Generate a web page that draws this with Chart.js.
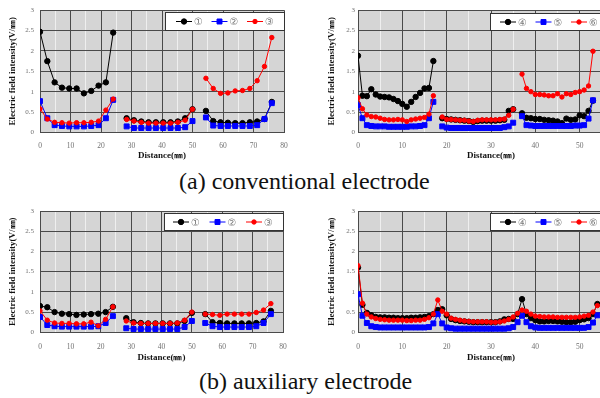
<!DOCTYPE html>
<html><head><meta charset="utf-8">
<script src="https://cdn.jsdelivr.net/npm/chart.js@4.4.1/dist/chart.umd.min.js"></script>
<style>
html,body{margin:0;padding:0;background:#fff;}
body{width:600px;height:398px;overflow:hidden;position:relative;}
.panel{position:absolute;}
.cap{position:absolute;font-family:'Liberation Serif','Times New Roman',Tinos,'DejaVu Serif','Noto Serif',serif;font-size:24px;line-height:24px;color:#111;white-space:nowrap;}
</style></head><body>
<div class="panel" style="left:0px;top:0px;width:300px;height:165px"><canvas id="aL"></canvas></div>
<div class="panel" style="left:300px;top:0px;width:340px;height:165px"><canvas id="aR"></canvas></div>
<div class="panel" style="left:0px;top:200px;width:300px;height:165px"><canvas id="bL"></canvas></div>
<div class="panel" style="left:300px;top:200px;width:340px;height:165px"><canvas id="bR"></canvas></div>
<div class="cap" style="left:179px;top:169px">(a) conventional electrode</div>
<div class="cap" style="left:199px;top:369px">(b) auxiliary electrode</div>
<script>
// ---------- data ----------
const namesLeft = ['①','②','③'];
const namesRight = ['④','⑤','⑥'];
const yTickValues = [0, 0.5, 1, 1.5, 2, 2.5, 3];
const xTicksLeft = [0, 10, 20, 30, 40, 50, 60, 70, 80];
const xTicksRight = [0, 10, 20, 30, 40, 50, 60];

// (a) conventional electrode, left panel
const aLeftDistance = [
  [0, 2.4, 4.8, 7.2, 9.6, 12, 14.4, 16.8, 19.2, 21.6, 24],
  [28.4, 30.8, 33.2, 35.6, 38, 40.4, 42.8, 45.2, 47.6, 50],
  [54.4, 56.8, 59.2, 61.6, 64, 66.4, 68.8, 71.2, 73.6, 76]
];
const aLeft1 = [
  [2.47, 1.75, 1.23, 1.10, 1.08, 1.08, 0.96, 1.02, 1.15, 1.23, 2.45],
  [0.35, 0.30, 0.27, 0.25, 0.25, 0.25, 0.25, 0.27, 0.35, 0.57],
  [0.53, 0.28, 0.25, 0.24, 0.23, 0.23, 0.25, 0.27, 0.33, 0.75]
];
const aLeft2 = [
  [0.77, 0.35, 0.18, 0.16, 0.15, 0.15, 0.15, 0.16, 0.18, 0.35, 0.80],
  [0.15, 0.11, 0.11, 0.11, 0.11, 0.11, 0.11, 0.11, 0.13, 0.28],
  [0.37, 0.17, 0.16, 0.16, 0.16, 0.16, 0.16, 0.18, 0.33, 0.72]
];
const aLeft3 = [
  [0.58, 0.33, 0.25, 0.24, 0.23, 0.24, 0.24, 0.25, 0.28, 0.55, 0.82],
  [0.32, 0.28, 0.25, 0.23, 0.23, 0.23, 0.23, 0.25, 0.30, 0.57],
  [1.33, 1.08, 0.96, 0.97, 1.02, 1.03, 1.08, 1.27, 1.62, 2.33]
];

// (a) conventional electrode, right panel
const aRightDistance = [
  [0, 1, 2, 3, 4, 5, 6, 7, 8, 9, 10, 11, 12, 13, 14, 15, 16, 17],
  [19, 20, 21, 22, 23, 24, 25, 26, 27, 28, 29, 30, 31, 32, 33, 34, 35],
  [37, 38, 39, 40, 41, 42, 43, 44, 45, 46, 47, 48, 49, 50, 51, 52, 53]
];
const aRight1 = [
  [1.88, 0.90, 0.89, 1.06, 0.93, 0.88, 0.87, 0.86, 0.82, 0.77, 0.70, 0.63, 0.75, 0.87, 0.97, 1.08, 1.09, 1.75],
  [0.35, 0.33, 0.32, 0.31, 0.30, 0.29, 0.28, 0.26, 0.28, 0.29, 0.29, 0.29, 0.29, 0.30, 0.31, 0.53, 0.57],
  [0.47, 0.36, 0.35, 0.33, 0.33, 0.31, 0.30, 0.29, 0.27, 0.23, 0.34, 0.31, 0.32, 0.42, 0.40, 0.53, 0.78]
];
const aRight2 = [
  [0.67, 0.35, 0.18, 0.16, 0.15, 0.15, 0.15, 0.14, 0.14, 0.14, 0.14, 0.14, 0.15, 0.15, 0.16, 0.18, 0.35, 0.75],
  [0.15, 0.12, 0.11, 0.11, 0.11, 0.11, 0.11, 0.11, 0.11, 0.11, 0.11, 0.11, 0.11, 0.11, 0.13, 0.15, 0.24],
  [0.40, 0.18, 0.17, 0.16, 0.16, 0.16, 0.16, 0.16, 0.16, 0.16, 0.16, 0.16, 0.17, 0.17, 0.18, 0.34, 0.79]
];
const aRight3 = [
  [0.85, 0.58, 0.43, 0.39, 0.38, 0.35, 0.32, 0.31, 0.31, 0.32, 0.31, 0.27, 0.31, 0.33, 0.35, 0.37, 0.45, 0.90],
  [0.38, 0.32, 0.32, 0.31, 0.30, 0.30, 0.28, 0.27, 0.30, 0.31, 0.31, 0.31, 0.31, 0.32, 0.33, 0.42, 0.57],
  [1.43, 1.08, 1.00, 0.93, 0.93, 0.92, 0.90, 0.90, 0.95, 0.87, 0.95, 0.93, 0.98, 1.00, 1.04, 1.14, 1.99]
];

// (b) auxiliary electrode, left panel
const bLeftDistance = aLeftDistance;
const bLeft1 = [
  [0.65, 0.62, 0.50, 0.46, 0.45, 0.43, 0.44, 0.45, 0.46, 0.50, 0.63],
  [0.35, 0.25, 0.23, 0.22, 0.22, 0.22, 0.22, 0.22, 0.28, 0.48],
  [0.45, 0.25, 0.23, 0.22, 0.22, 0.22, 0.22, 0.23, 0.27, 0.53]
];
const bLeft2 = [
  [0.38, 0.18, 0.15, 0.14, 0.14, 0.14, 0.14, 0.14, 0.15, 0.23, 0.40],
  [0.10, 0.08, 0.08, 0.08, 0.08, 0.08, 0.08, 0.08, 0.13, 0.28],
  [0.23, 0.15, 0.13, 0.13, 0.13, 0.13, 0.13, 0.15, 0.23, 0.45]
];
const bLeft3 = [
  [0.53, 0.30, 0.23, 0.22, 0.22, 0.21, 0.21, 0.25, 0.16, 0.32, 0.63],
  [0.28, 0.23, 0.22, 0.22, 0.22, 0.22, 0.22, 0.23, 0.30, 0.50],
  [0.45, 0.44, 0.42, 0.45, 0.45, 0.45, 0.45, 0.49, 0.55, 0.71]
];

// (b) auxiliary electrode, right panel
const bRightDistance = [
  [0, 1, 2, 3, 4, 5, 6, 7, 8, 9, 10, 11, 12, 13, 14, 15, 16, 17, 18, 19, 20, 21, 22, 23, 24, 25, 26, 27,
   28, 29, 30, 31, 32, 33, 34, 35, 36, 37, 38, 39, 40, 41, 42, 43, 44, 45, 46, 47, 48, 49, 50, 51, 52, 53, 54]
];
const bRight1 = [
  [1.60, 0.68, 0.48, 0.42, 0.38, 0.37, 0.37, 0.36, 0.36, 0.35, 0.35, 0.35, 0.36, 0.36, 0.37, 0.38, 0.40, 0.45, 0.55,
   0.57, 0.42, 0.33, 0.30, 0.28, 0.27, 0.26, 0.25, 0.25, 0.25, 0.25, 0.25, 0.25, 0.27, 0.32, 0.33, 0.33, 0.45,
   0.82, 0.45, 0.35, 0.30, 0.27, 0.27, 0.28, 0.28, 0.27, 0.26, 0.25, 0.25, 0.26, 0.30, 0.32, 0.35, 0.45, 0.70]
];
const bRight2 = [
  [0.94, 0.41, 0.23, 0.15, 0.13, 0.12, 0.12, 0.12, 0.12, 0.12, 0.12, 0.12, 0.12, 0.12, 0.12, 0.12, 0.13, 0.22, 0.45,
   0.22, 0.12, 0.10, 0.09, 0.09, 0.09, 0.09, 0.09, 0.09, 0.09, 0.09, 0.09, 0.09, 0.09, 0.09, 0.10, 0.13, 0.25,
   0.41, 0.25, 0.15, 0.12, 0.11, 0.11, 0.11, 0.11, 0.11, 0.11, 0.11, 0.11, 0.11, 0.11, 0.11, 0.13, 0.24, 0.42]
];
const bRight3 = [
  [1.65, 0.72, 0.45, 0.38, 0.34, 0.32, 0.31, 0.30, 0.30, 0.30, 0.30, 0.29, 0.29, 0.30, 0.30, 0.32, 0.36, 0.45, 0.80,
   0.52, 0.45, 0.35, 0.32, 0.30, 0.28, 0.27, 0.26, 0.26, 0.26, 0.26, 0.25, 0.25, 0.26, 0.28, 0.32, 0.38, 0.47,
   0.55, 0.52, 0.45, 0.40, 0.39, 0.38, 0.38, 0.38, 0.37, 0.37, 0.37, 0.37, 0.37, 0.38, 0.40, 0.42, 0.50, 0.66]
];

// ---------- styling ----------
const serifFamily = "'Liberation Serif', 'Times New Roman', Tinos, 'DejaVu Serif', 'Noto Serif', serif";
const seriesStyle = [
  {color: '#000000', pointStyle: 'circle', radius: 2.7},
  {color: '#0000ff', pointStyle: 'rect', radius: 3.5},
  {color: '#ff0000', pointStyle: 'circle', radius: 2.2}
];
const gridDark = '#4a4a4a';
const gridLight = '#efefef';
const plotFill = '#d5d5d5';

function toPoints(dist, vals) {
  const out = [];
  dist.forEach((seg, s) => {
    if (s > 0) out.push({x: seg[0], y: null});
    seg.forEach((x, i) => out.push({x: x, y: vals[s][i]}));
  });
  return out;
}

const plotBg = {
  id: 'plotBg',
  beforeDraw(chart) {
    const a = chart.chartArea, ctx = chart.ctx;
    ctx.save();
    ctx.fillStyle = plotFill;
    ctx.fillRect(a.left, a.top, a.right - a.left, a.bottom - a.top);
    ctx.restore();
  }
};

const boxLegend = {
  id: 'boxLegend',
  afterDraw(chart, args, o) {
    const ctx = chart.ctx;
    ctx.save();
    ctx.fillStyle = '#ffffff';
    ctx.fillRect(o.x, o.y, o.w, o.h);
    ctx.strokeStyle = '#333';
    ctx.lineWidth = 1;
    ctx.strokeRect(o.x + 0.5, o.y + 0.5, o.w, o.h);
    const cy = o.y + o.h / 2 + 0.5;
    chart.data.datasets.forEach((ds, i) => {
      const st = seriesStyle[i];
      const cx = o.x + o.first + i * o.gap;
      ctx.strokeStyle = st.color;
      ctx.fillStyle = st.color;
      ctx.lineWidth = 1;
      ctx.beginPath();
      ctx.moveTo(cx - 8, cy);
      ctx.lineTo(cx + 8, cy);
      ctx.stroke();
      Chart.helpers.drawPoint(ctx, {pointStyle: st.pointStyle, radius: st.radius, rotation: 0, borderWidth: 1}, cx, cy);
      ctx.fillStyle = '#7a7a7a';
      ctx.font = "10px 'DejaVu Sans','Noto Sans CJK KR',sans-serif";
      ctx.textBaseline = 'middle';
      ctx.textAlign = 'left';
      ctx.fillText(ds.label, cx + 10, cy + 1);
    });
    ctx.restore();
  }
};

function makeChart(id, dist, s1, s2, s3, names, xTicks, cfg) {
  const all = [s1, s2, s3];
  const xMax = xTicks[xTicks.length - 1];
  return new Chart(document.getElementById(id), {
    type: 'line',
    data: {
      datasets: all.map((v, i) => ({
        label: names[i],
        data: toPoints(dist, v),
        borderColor: seriesStyle[i].color,
        backgroundColor: seriesStyle[i].color,
        pointStyle: seriesStyle[i].pointStyle,
        pointRadius: seriesStyle[i].radius,
        pointHoverRadius: seriesStyle[i].radius,
        pointBorderWidth: 1,
        borderWidth: 1,
        tension: 0,
        spanGaps: false,
        order: 2 - i
      }))
    },
    options: {
      responsive: true,
      maintainAspectRatio: false,
      animation: false,
      events: [],
      layout: {padding: {top: cfg.top, right: cfg.right, left: 0, bottom: 0}},
      plugins: {legend: {display: false}, tooltip: {enabled: false}, boxLegend: cfg.legend},
      scales: {
        x: {
          type: 'linear', min: 0, max: xMax,
          afterFit: s => { s.height = cfg.xHeight; },
          ticks: {
            stepSize: 5, autoSkip: false, maxRotation: 0, padding: cfg.xTickPad,
            color: '#707070', font: {family: serifFamily, size: 7.5},
            callback: v => xTicks.includes(v) ? String(v) : ''
          },
          grid: {color: c => (c.tick && xTicks.includes(c.tick.value)) ? gridDark : gridLight, drawTicks: false, lineWidth: 1},
          border: {display: true, color: gridDark},
          title: {display: true, text: 'Distance(㎜)', color: '#111',
                  font: {family: serifFamily, size: 9, weight: 'bold'},
                  padding: {top: 0, bottom: cfg.xTitlePad}}
        },
        y: {
          min: 0, max: 3,
          afterFit: s => { s.width = cfg.yWidth; },
          afterBuildTicks: s => { s.ticks = yTickValues.map(v => ({value: v})); },
          ticks: {padding: cfg.yTickPad, color: '#707070', font: {family: serifFamily, size: 7},
                  callback: v => String(v)},
          grid: {color: gridDark, drawTicks: false, lineWidth: 1},
          border: {display: true, color: gridDark},
          title: {display: true, text: 'Electric field intensity(V/㎜)', color: '#111',
                  font: {family: serifFamily, size: 9, weight: 'bold'},
                  padding: {top: cfg.yTitlePad, bottom: 0}}
        }
      }
    },
    plugins: [plotBg, boxLegend]
  });
}

makeChart('aL', aLeftDistance, aLeft1, aLeft2, aLeft3, namesLeft, xTicksLeft, {
  top: 10, right: 16, xHeight: 32.5, xTickPad: 9, xTitlePad: 3.6, yWidth: 40, yTickPad: 6, yTitlePad: 7.6,
  legend: {x: 165, y: 12, w: 119, h: 18, first: 19, gap: 35.5}
});
makeChart('aR', aRightDistance, aRight1, aRight2, aRight3, namesRight, xTicksRight, {
  top: 10, right: 16, xHeight: 32.5, xTickPad: 9, xTitlePad: 3.6, yWidth: 58, yTickPad: 3, yTitlePad: 26.6,
  legend: {x: 190, y: 13, w: 119, h: 17, first: 18, gap: 35.5}
});
makeChart('bL', bLeftDistance, bLeft1, bLeft2, bLeft3, namesLeft, xTicksLeft, {
  top: 11, right: 17, xHeight: 32.7, xTickPad: 10, xTitlePad: 1.9, yWidth: 40, yTickPad: 6, yTitlePad: 7.6,
  legend: {x: 164, y: 13, w: 119, h: 17, first: 17, gap: 36.5}
});
makeChart('bR', bRightDistance, bRight1, bRight2, bRight3, namesRight, xTicksRight, {
  top: 11, right: 16, xHeight: 32.7, xTickPad: 10, xTitlePad: 1.9, yWidth: 58, yTickPad: 3, yTitlePad: 26.6,
  legend: {x: 190, y: 13, w: 119, h: 17, first: 18, gap: 35.5}
});
</script>
</body></html>
